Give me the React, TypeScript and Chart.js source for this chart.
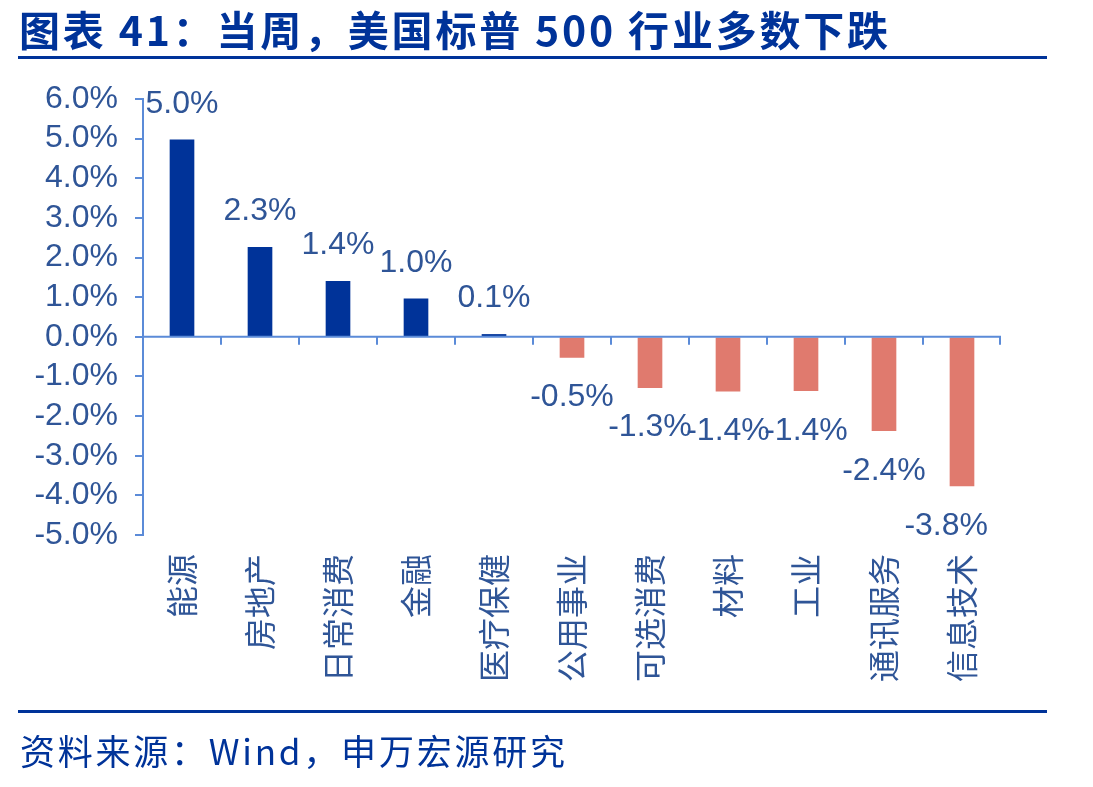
import React, { useEffect, useRef } from "react";
import { Chart, registerables } from "chart.js";

Chart.register(...registerables);

const TITLE = "图表 41：当周，美国标普 500 行业多数下跌";
const SOURCE = "资料来源：Wind，申万宏源研究";
const categories = ["能源", "房地产", "日常消费", "金融", "医疗保健", "公用事业", "可选消费", "材料", "工业", "通讯服务", "信息技术"];
const weeklyChange = [4.97, 2.26, 1.4, 0.96, 0.06, -0.52, -1.28, -1.37, -1.36, -2.37, -3.76];
const yMin = -5;
const yMax = 6;

const W = 1093;
const H = 787;
const DARK = "#003399";
const NEG = "#E07A6E";
const AXIS = "#5B8BD8";
const TEXT = "#2F5597";
const NUM_FONT = "'Liberation Sans', Arial, sans-serif";
const CJK_FONT = "'Noto Sans CJK SC', 'Noto Sans', sans-serif";

function drawFit(ctx: CanvasRenderingContext2D, text: string, x: number, y: number, target: number) {
  ctx.save();
  const n = Array.from(text).length;
  const w = ctx.measureText(text).width;
  const anyCtx = ctx as any;
  if ("letterSpacing" in anyCtx && n > 1 && target > w) {
    const ls = (target - w) / (n - 1);
    anyCtx.letterSpacing = ls.toFixed(2) + "px";
    ctx.fillText(text, x, y);
  } else {
    ctx.translate(x, y);
    ctx.scale(target / w, 1);
    ctx.fillText(text, 0, 0);
  }
  ctx.restore();
}

const decorPlugin = {
  id: "decor",
  beforeDraw(chart: any) {
    const ctx = chart.ctx as CanvasRenderingContext2D;
    ctx.save();
    ctx.fillStyle = "#ffffff";
    ctx.fillRect(0, 0, W, H);
    ctx.fillStyle = DARK;
    ctx.textBaseline = "middle";
    ctx.textAlign = "left";
    ctx.font = `bold 41px ${CJK_FONT}`;
    drawFit(ctx, TITLE, 19, 30, 869);
    ctx.font = `35px ${CJK_FONT}`;
    drawFit(ctx, SOURCE, 20, 752, 545);
    ctx.fillStyle = DARK;
    ctx.fillRect(18, 56, 1029, 3);
    ctx.fillRect(18, 710, 1029, 3);
    ctx.restore();
  },
  afterDatasetsDraw(chart: any) {
    const ctx = chart.ctx as CanvasRenderingContext2D;
    const xs = chart.scales.x;
    const ys = chart.scales.y;
    const area = chart.chartArea;
    const y0 = ys.getPixelForValue(0);
    ctx.save();
    ctx.strokeStyle = AXIS;
    ctx.lineWidth = 2;
    ctx.beginPath();
    ctx.moveTo(area.left, y0);
    ctx.lineTo(area.right, y0);
    for (let i = 1; i <= categories.length; i++) {
      const xb = i < categories.length
        ? (xs.getPixelForValue(i - 1) + xs.getPixelForValue(i)) / 2
        : area.right - 1;
      ctx.moveTo(xb, y0);
      ctx.lineTo(xb, y0 + 8);
    }
    ctx.stroke();

    const meta = chart.getDatasetMeta(0);
    ctx.fillStyle = TEXT;
    ctx.font = `32px ${NUM_FONT}`;
    ctx.textAlign = "center";
    ctx.textBaseline = "middle";
    const maxRight = area.right - 13;
    meta.data.forEach((el: any, i: number) => {
      const v = weeklyChange[i];
      const label = v.toFixed(1) + "%";
      const half = ctx.measureText(label).width / 2;
      const x = Math.min(el.x, maxRight - half);
      const y = v >= 0 ? el.y - 36 : el.y + 40;
      ctx.fillText(label, x, y);
    });
    ctx.restore();
  },
};

export default function App() {
  const ref = useRef<HTMLCanvasElement | null>(null);
  useEffect(() => {
    document.body.style.margin = "0";
    const canvas = ref.current!;
    const chart = new Chart(canvas, {
      type: "bar",
      data: {
        labels: categories,
        datasets: [
          {
            data: weeklyChange,
            backgroundColor: weeklyChange.map((v) => (v >= 0 ? DARK : NEG)),
            barThickness: 24,
            borderWidth: 0,
          },
        ],
      },
      options: {
        animation: false,
        responsive: false,
        devicePixelRatio: 1,
        layout: { padding: { left: 0, top: 99, right: 92, bottom: 0 } },
        plugins: {
          legend: { display: false },
          tooltip: { enabled: false },
          title: { display: false },
        },
        scales: {
          x: {
            afterFit: (s: any) => {
              s.height = 252;
            },
            grid: { display: false, drawTicks: false },
            border: { display: false },
            ticks: {
              autoSkip: false,
              maxRotation: 90,
              minRotation: 90,
              padding: 19,
              color: TEXT,
              font: { family: CJK_FONT, size: 32 },
            },
          },
          y: {
            min: yMin,
            max: yMax,
            afterFit: (s: any) => {
              s.width = 143;
            },
            grid: {
              drawOnChartArea: false,
              drawTicks: true,
              tickLength: 8,
              color: AXIS,
              lineWidth: 2,
            },
            border: { display: true, color: AXIS, width: 2 },
            ticks: {
              autoSkip: false,
              stepSize: 1,
              padding: 17,
              color: TEXT,
              font: { family: NUM_FONT, size: 32 },
              callback: (v: any) => Number(v).toFixed(1) + "%",
            },
          },
        },
      },
      plugins: [decorPlugin],
    });
    return () => chart.destroy();
  }, []);
  return (
    <div style={{ position: "absolute", left: 0, top: 0, width: W, height: H, background: "#fff" }}>
      <canvas ref={ref} width={W} height={H} style={{ display: "block" }} />
    </div>
  );
}
